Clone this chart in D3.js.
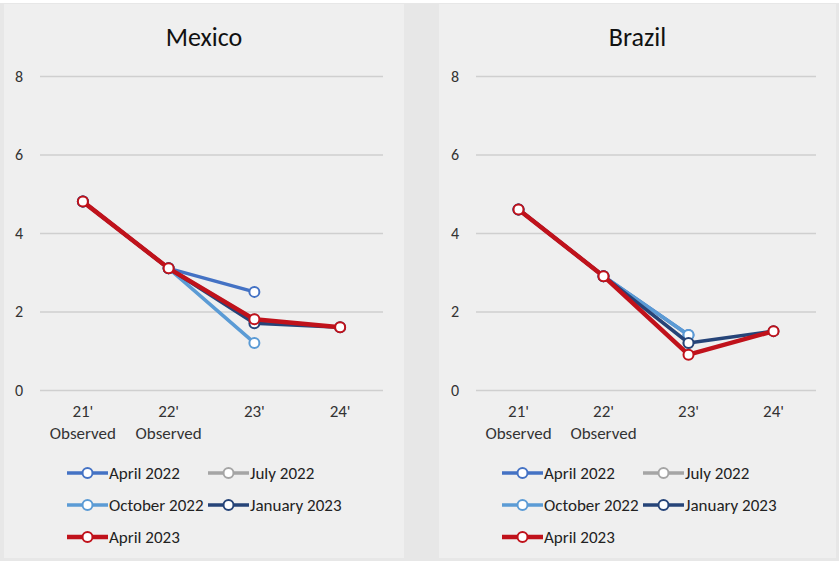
<!DOCTYPE html>
<html>
<head>
<meta charset="utf-8">
<script src="https://cdn.jsdelivr.net/npm/d3@7"></script>
<style>
  html, body { margin: 0; padding: 0; background: #ffffff; }
  svg { display: block; }
  text { font-family: Carlito, Lato, "Liberation Sans", sans-serif; fill: #333; }
</style>
</head>
<body>
<svg id="chart" width="839" height="563"></svg>
<script>
// Forecast vintages of GDP growth (%) by country
const categories = ["21'", "22'", "23'", "24'"];
const subLabels = ["Observed", "Observed", "", ""];
const yTicks = [0, 2, 4, 6, 8];
const seriesNames = ["April 2022", "July 2022", "October 2022", "January 2023", "April 2023"];
const seriesColors = ["#4472c4", "#a5a5a5", "#5b9bd5", "#264478", "#c0121b"];

// Mexico values per vintage (null = not forecast)
const mexicoApr22 = [4.8, 3.1, 2.5, null];
const mexicoJul22 = [4.8, 3.1, 1.8, null];
const mexicoOct22 = [4.8, 3.1, 1.2, null];
const mexicoJan23 = [4.8, 3.1, 1.7, 1.6];
const mexicoApr23 = [4.8, 3.1, 1.8, 1.6];

// Brazil values per vintage
const brazilApr22 = [4.6, 2.9, 1.4, null];
const brazilJul22 = [4.6, 2.9, 1.2, null];
const brazilOct22 = [4.6, 2.9, 1.4, null];
const brazilJan23 = [4.6, 2.9, 1.2, 1.5];
const brazilApr23 = [4.6, 2.9, 0.9, 1.5];

const panels = [
  { title: "Mexico", values: [mexicoApr22, mexicoJul22, mexicoOct22, mexicoJan23, mexicoApr23],
    x0: 4, x1: 404, plotL: 40, plotR: 383 },
  { title: "Brazil", values: [brazilApr22, brazilJul22, brazilOct22, brazilJan23, brazilApr23],
    x0: 439, x1: 836, plotL: 476, plotR: 816 }
];

const FONT = "Carlito, Lato, 'Liberation Sans', sans-serif";
const svg = d3.select("#chart");

// page background and the darker strip between the two panels
svg.append("rect").attr("x", 0).attr("y", 0).attr("width", 839).attr("height", 563).attr("fill", "#ffffff");
svg.append("rect").attr("x", 0).attr("y", 3).attr("width", 839).attr("height", 558).attr("fill", "#e7e7e7");

const y = d3.scaleLinear().domain([0, 8]).range([390, 76]);

panels.forEach(p => {
  const g = svg.append("g");
  g.append("rect").attr("x", p.x0).attr("y", 4).attr("width", p.x1 - p.x0).attr("height", 554).attr("fill", "#efefef");

  g.append("text").attr("x", (p.x0 + p.x1) / 2).attr("y", 46)
    .attr("text-anchor", "middle").attr("font-size", 26).style("fill", "#111").text(p.title);

  const x = d3.scaleBand().domain(categories).range([p.plotL, p.plotR]);

  // horizontal gridlines + y labels via axis
  const yAxis = d3.axisLeft(y).tickValues(yTicks).tickSize(-(p.plotR - p.plotL)).tickPadding(17);
  const ya = g.append("g").attr("transform", `translate(${p.plotL},0)`).call(yAxis);
  ya.select(".domain").remove();
  ya.selectAll(".tick line").attr("stroke", "#cfcfcf").attr("stroke-width", 1.5);
  ya.selectAll(".tick text").attr("font-size", 16).style("fill", "#333").style("font-family", FONT);

  // category labels
  const xAxis = d3.axisBottom(x).tickSize(0).tickPadding(15);
  const xa = g.append("g").attr("transform", `translate(0,${y(0)})`).call(xAxis);
  xa.select(".domain").remove();
  xa.selectAll(".tick text").attr("font-size", 17).style("fill", "#333").style("font-family", FONT);
  xa.selectAll(".tick").append("text")
    .attr("y", 49).attr("text-anchor", "middle").attr("font-size", 17)
    .style("fill", "#333").style("font-family", FONT)
    .text((d, i) => subLabels[i]);

  const cx = d => x(d) + x.bandwidth() / 2;
  const line = d3.line().defined(d => d.v != null).x(d => cx(d.c)).y(d => y(d.v));

  p.values.forEach((vals, si) => {
    const pts = vals.map((v, i) => ({ c: categories[i], v }));
    const w = si === 4 ? 4.5 : 3.5;
    g.append("path").datum(pts).attr("d", line).attr("fill", "none")
      .attr("stroke", seriesColors[si]).attr("stroke-width", w).attr("stroke-linejoin", "round");
    g.selectAll(null).data(pts.filter(d => d.v != null)).enter().append("circle")
      .attr("cx", d => cx(d.c)).attr("cy", d => y(d.v)).attr("r", 5)
      .attr("fill", "#ffffff").attr("stroke", seriesColors[si]).attr("stroke-width", 2);
  });

  // legend
  const legendPos = [[0, 0], [141, 0], [0, 32], [141, 32], [0, 64]];
  const lx = p.x0 + 63, ly = 473;
  seriesNames.forEach((name, si) => {
    const [dx, dy] = legendPos[si];
    const lg = g.append("g").attr("transform", `translate(${lx + dx},${ly + dy})`);
    lg.append("line").attr("x1", 0).attr("x2", 41).attr("y1", 0).attr("y2", 0)
      .attr("stroke", seriesColors[si]).attr("stroke-width", si === 4 ? 4.5 : 3.5);
    lg.append("circle").attr("cx", 20.5).attr("cy", 0).attr("r", 5)
      .attr("fill", "#ffffff").attr("stroke", seriesColors[si]).attr("stroke-width", 2);
    lg.append("text").attr("x", 42).attr("y", 6).attr("font-size", 17).style("fill", "#222").text(name);
  });
});
</script>
</body>
</html>
